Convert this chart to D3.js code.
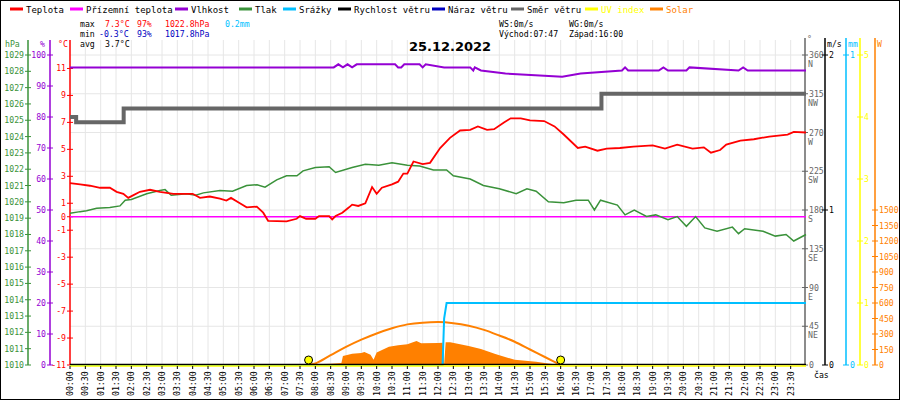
<!DOCTYPE html>
<html>
<head>
<meta charset="utf-8">
<script src="https://cdn.jsdelivr.net/npm/d3@7"></script>
<style>
body { margin: 0; background: #fff; }
text { font-family: "DejaVu Sans Mono", monospace; font-size: 8.2px; }
</style>
</head>
<body>
<div id="chart"></div>
<script>
// time in hours
var tempTimes = [0,0.33,0.65,0.98,1.3,1.52,1.74,1.9,2.07,2.28,2.61,2.93,3.37,4.0,4.24,4.56,4.89,5.1,5.25,5.54,5.76,6.09,6.3,6.46,7.06,7.39,7.5,7.7,8.0,8.12,8.45,8.55,8.66,8.88,9.1,9.2,9.4,9.63,9.85,10.0,10.17,10.5,10.7,10.87,11.0,11.2,11.5,11.74,12.07,12.39,12.72,13.05,13.3,13.6,13.83,14.15,14.37,14.7,15.0,15.46,15.8,16.1,16.56,16.8,17.2,17.5,17.93,18.37,19.0,19.4,19.8,20.3,20.67,20.9,21.2,21.4,21.86,22.3,22.8,23.4,23.6,24.0];
var tempValues = [2.5,2.4,2.3,2.15,2.15,1.85,1.7,1.4,1.6,1.85,2.0,1.85,1.7,1.7,1.4,1.5,1.35,1.2,1.4,1.0,0.7,0.75,0.3,-0.3,-0.35,-0.15,0.05,-0.15,-0.15,0.05,0.05,-0.2,0.05,0.3,0.7,0.9,0.8,1.0,2.2,1.7,2.15,2.4,2.6,3.2,3.2,4.1,3.9,4.0,5.1,5.85,6.4,6.45,6.7,6.45,6.5,7.0,7.3,7.3,7.15,7.1,6.7,6.1,5.1,5.2,4.9,5.05,5.1,5.2,5.3,5.05,5.35,5.05,5.15,4.75,4.95,5.35,5.65,5.75,5.95,6.1,6.3,6.25];

var groundTimes = [0,24];
var groundValues = [0,0];

var pressTimes = [0,0.33,0.54,0.87,1.3,1.63,1.8,2.0,2.5,2.93,3.1,3.3,3.8,4.1,4.35,4.89,5.3,5.76,6.1,6.36,6.74,7.06,7.4,7.6,8.0,8.45,8.66,9.2,9.63,10.07,10.5,11.0,11.4,11.85,12.28,12.5,13.05,13.48,14.0,14.55,14.9,15.2,15.6,16.1,16.5,16.9,17.1,17.3,17.85,18.1,18.4,18.8,19.1,19.5,19.8,20.1,20.4,20.7,21.1,21.6,21.8,22.0,22.6,23.0,23.35,23.6,24.0];
var pressValues = [1019.3,1019.4,1019.45,1019.6,1019.65,1019.75,1020.1,1020.15,1020.5,1020.7,1020.75,1020.4,1020.5,1020.4,1020.55,1020.7,1020.65,1021.0,1021.05,1020.9,1021.35,1021.6,1021.6,1021.9,1022.1,1022.15,1021.8,1022.1,1022.3,1022.25,1022.4,1022.25,1022.2,1021.95,1021.95,1021.6,1021.4,1021.0,1020.8,1020.5,1020.8,1020.65,1020.0,1019.95,1020.1,1020.1,1019.5,1020.1,1019.8,1019.2,1019.5,1019.1,1019.2,1018.9,1019.1,1018.5,1019.1,1018.4,1018.2,1018.45,1018.05,1018.35,1018.2,1017.9,1018.0,1017.6,1018.0];

var humTimes = [0,8.6,8.75,8.9,9.05,9.2,9.35,9.5,10.6,10.7,10.8,10.9,11.4,11.5,11.6,12.2,13.05,13.15,13.2,13.4,14.2,16.05,16.65,18.0,18.1,18.2,19.2,19.35,19.5,20.1,20.2,21.8,21.95,22.1,22.2,24.0];
var humValues = [96,96,97,96,97,96,97,97,97,96,96,97,97,96,97,96,96,95,96,95,94,93,94,95,96,95,95,96,95,95,96,95,96,95,95,95];

var dirTimes = [0,0.2,1.75,17.33,24];
var dirValues = [288,282,298,315,315];

var rainTimes = [0,12.15,12.2,12.28,24];
var rainValues = [0,0,0.15,0.2,0.2];

var solarTimes = [7.78,7.98,8.5,8.85,8.9,9.2,9.5,9.6,9.8,9.9,10.0,10.4,10.7,11.0,11.3,11.45,12.0,12.15,12.2,12.25,12.4,13.0,13.4,13.87,14.5,15.2,15.6,16.0];
var solarValues = [0,8,12,20,87,110,116,125,100,51,120,177,190,200,232,210,212,215,10,220,220,184,155,106,50,32,15,0];

var clearTimes = [7.75,8.0,8.5,9.0,9.5,10.0,10.5,11.0,11.5,12.0,12.5,13.0,13.5,14.0,14.5,15.0,15.5,16.0];
var clearValues = [0,15,95,175,245,305,355,393,410,415,405,380,340,285,225,150,75,0];

var sunTimes = [7.78,16.0];

var tempTicks = [11,9,7,5,3,1,0,-1,-3,-5,-7,-9,-11];
var pressTicks = d3.range(1010,1030);
var humTicks = d3.range(0,101,10);
var dirTicks = [0,45,90,135,180,225,270,315,360];
var dirNames = ["","NE","E","SE","S","SW","W","NW","N"];
var solarTicks = d3.range(0,1501,150);
var uvTicks = [0,1,2,3,4,5];

var legendNames = ["Teplota","Přízemní teplota","Vlhkost","Tlak","Srážky","Rychlost větru","Náraz větru","Směr větru","UV index","Solar"];
var legendColors = ["#ff0000","#ff00ff","#9400d3","#3a923a","#00bfff","#000000","#0000c0","#666666","#ffff00","#ff8000"];
var legendX = [10,70,175,239,283,338,432,511,585,650];

var width = 900, height = 400;
var x0 = 70, x1 = 806, yTop = 55, yBot = 365;

var svg = d3.select("#chart").append("svg").attr("width", width).attr("height", height);
svg.append("rect").attr("x",0.5).attr("y",0.5).attr("width",width-1).attr("height",height-1)
    .attr("fill","#fff").attr("stroke","#000");

var x = d3.scaleLinear().domain([0,24]).range([x0,x1]);
var yT = d3.scaleLinear().domain([-11,12]).range([yBot,yTop]);
var yP = d3.scaleLinear().domain([1010,1029]).range([yBot,yTop]);
var yH = d3.scaleLinear().domain([0,100]).range([yBot,yTop]);
var yD = d3.scaleLinear().domain([0,360]).range([yBot,yTop]);
var yW = d3.scaleLinear().domain([0,3000]).range([yBot,yTop]);
var yR = d3.scaleLinear().domain([0,1]).range([yBot,yTop]);
var yS = d3.scaleLinear().domain([0,2]).range([yBot,yTop]);
var yU = d3.scaleLinear().domain([0,5]).range([yBot,yTop]);

var halfHours = d3.range(0,24,0.5);

// grid
svg.append("g").selectAll("line").data(halfHours.slice(1)).enter().append("line")
    .attr("x1", d => x(d)).attr("x2", d => x(d)).attr("y1", 40).attr("y2", yBot)
    .attr("stroke","#e6e6e6");
svg.append("g").selectAll("line").data(dirTicks.slice(1)).enter().append("line")
    .attr("x1", x0).attr("x2", x1).attr("y1", d => yD(d)).attr("y2", d => yD(d))
    .attr("stroke","#e6e6e6");

// legend
var leg = svg.append("g").selectAll("g").data(legendNames).enter().append("g")
    .attr("transform", (d,i) => "translate(" + legendX[i] + ",9)");
leg.append("line").attr("x1",0).attr("x2",13).attr("y1",0).attr("y2",0)
    .attr("stroke", (d,i) => legendColors[i]).attr("stroke-width",3);
leg.append("text").attr("x",16).attr("y",3.5).style("font-size","9px")
    .attr("fill", (d,i) => i > 7 ? legendColors[i] : "#000").text(d => d);

// stats
function txt(tx, ty, t, c) {
    svg.append("text").attr("x",tx).attr("y",ty).attr("fill",c || "#000").text(t);
}
txt(80,27,"max"); txt(105,27,"7.3°C","#ff0000"); txt(137,27,"97%","#ff0000"); txt(165,27,"1022.8hPa","#ff0000"); txt(225,27,"0.2mm","#00bfff");
txt(80,37,"min"); txt(99,37,"-0.3°C","#0000c0"); txt(137,37,"93%","#0000c0"); txt(165,37,"1017.8hPa","#0000c0");
txt(80,47,"avg"); txt(105,47,"3.7°C");
txt(499,27,"WS:0m/s"); txt(569,27,"WG:0m/s");
txt(499,37,"Východ:07:47"); txt(569,37,"Západ:16:00");
svg.append("text").attr("x",450).attr("y",51).attr("text-anchor","middle")
    .style("font-family","DejaVu Sans").style("font-size","13px").style("font-weight","bold").text("25.12.2022");

// vertical axes
function vAxis(ax, scale, ticks, color, left, top) {
    var g = svg.append("g");
    g.append("line").attr("x1",ax).attr("x2",ax).attr("y1",top).attr("y2",yBot).attr("stroke",color).attr("stroke-width",1.5);
    var t = g.selectAll("g").data(ticks).enter().append("g");
    t.append("line").attr("x1",ax-3).attr("x2",ax+3).attr("y1",d => scale(d)).attr("y2",d => scale(d)).attr("stroke",color);
    t.append("text").attr("x", left ? ax-4 : ax+4).attr("y", d => scale(d)+3)
        .attr("text-anchor", left ? "end" : "start").attr("fill",color)
        .text(d => d);
    return g;
}
vAxis(28, yP, pressTicks, "#3a923a", true, 40);
vAxis(50, yH, humTicks, "#9400d3", true, 40);
vAxis(70, yT, tempTicks, "#ff0000", true, 40);
txt(5,47,"hPa","#3a923a"); txt(40,47,"%","#9400d3"); txt(58,47,"°C","#ff0000");

vAxis(805, yD, dirTicks, "#666666", false, 38);
svg.append("g").selectAll("text").data(dirTicks).enter().append("text")
    .attr("x",808).attr("y", d => yD(d)+12).attr("fill","#666").text((d,i) => dirNames[i]);
vAxis(825, yS, [0,1,2], "#000000", false, 38);
vAxis(846, yR, [0,1], "#00bfff", false, 38);
vAxis(860, yU, uvTicks, "#ffff00", false, 38);
var go = svg.append("g");
go.append("line").attr("x1",875).attr("x2",875).attr("y1",38).attr("y2",yBot).attr("stroke","#ff8000").attr("stroke-width",1.5);
go.selectAll("line.t").data(solarTicks).enter().append("line").attr("class","t")
    .attr("x1",872).attr("x2",878).attr("y1",d => yW(d)).attr("y2",d => yW(d)).attr("stroke","#ff8000");
go.selectAll("text").data(solarTicks).enter().append("text").attr("x",879).attr("y",d => yW(d)+3)
    .attr("fill","#ff8000").text(d => d);
txt(807,42,"°","#666"); txt(827,47,"m/s"); txt(848,47,"mm","#00bfff"); txt(877,47,"W","#ff8000");

function pts(ts, vs) { return ts.map((t,i) => [t, vs[i]]); }

// solar
svg.append("path").datum(pts(solarTimes, solarValues))
    .attr("d", d3.area().x(d => x(d[0])).y0(yBot).y1(d => yW(d[1])))
    .attr("fill","#ff8000");
svg.append("path").datum(pts(clearTimes, clearValues))
    .attr("d", d3.line().x(d => x(d[0])).y(d => yW(d[1])).curve(d3.curveMonotoneX))
    .attr("fill","none").attr("stroke","#ff8000").attr("stroke-width",2);

// direction
svg.append("path").datum(pts(dirTimes, dirValues))
    .attr("d", d3.line().x(d => x(d[0])).y(d => yD(d[1])).curve(d3.curveStepAfter))
    .attr("fill","none").attr("stroke","#666666").attr("stroke-width",4);

// rain
svg.append("path").datum(pts(rainTimes, rainValues))
    .attr("d", d3.line().x(d => x(d[0])).y(d => yR(d[1])))
    .attr("fill","none").attr("stroke","#00bfff").attr("stroke-width",2);

// ground temp
svg.append("path").datum(pts(groundTimes, groundValues))
    .attr("d", d3.line().x(d => x(d[0])).y(d => yT(d[1])))
    .attr("fill","none").attr("stroke","#ff00ff").attr("stroke-width",1.5);

// humidity
svg.append("path").datum(pts(humTimes, humValues))
    .attr("d", d3.line().x(d => x(d[0])).y(d => yH(d[1])))
    .attr("fill","none").attr("stroke","#9400d3").attr("stroke-width",2);

// pressure
svg.append("path").datum(pts(pressTimes, pressValues))
    .attr("d", d3.line().x(d => x(d[0])).y(d => yP(d[1])))
    .attr("fill","none").attr("stroke","#3a923a").attr("stroke-width",1.5);

// temperature
svg.append("path").datum(pts(tempTimes, tempValues))
    .attr("d", d3.line().x(d => x(d[0])).y(d => yT(d[1])))
    .attr("fill","none").attr("stroke","#ff0000").attr("stroke-width",1.8);

// bottom: wind speed 0, UV 0
svg.append("line").attr("x1",x0).attr("x2",x1).attr("y1",yBot-0.5).attr("y2",yBot-0.5).attr("stroke","#000").attr("stroke-width",1.5);
svg.append("line").attr("x1",x0).attr("x2",x1).attr("y1",yBot+1).attr("y2",yBot+1).attr("stroke","#ffff00").attr("stroke-width",1.5);

// sunrise / sunset
svg.selectAll("circle.sun").data(sunTimes).enter().append("circle").attr("class","sun")
    .attr("cx", d => x(d)).attr("cy", yBot-5).attr("r",4)
    .attr("fill","#ffff00").attr("stroke","#000");

// x ticks
var xt = svg.append("g").selectAll("g").data(halfHours).enter().append("g");
xt.append("line").attr("x1",d => x(d)).attr("x2",d => x(d)).attr("y1",yBot+1).attr("y2",yBot+4).attr("stroke","#000");
xt.append("text").attr("transform", d => "translate(" + (x(d)+3) + ",396) rotate(-90)")
    .text(d => d3.format("02")(Math.floor(d)) + ":" + (d % 1 ? "30" : "00"));
txt(814,378,"čas");
</script>
</body>
</html>
